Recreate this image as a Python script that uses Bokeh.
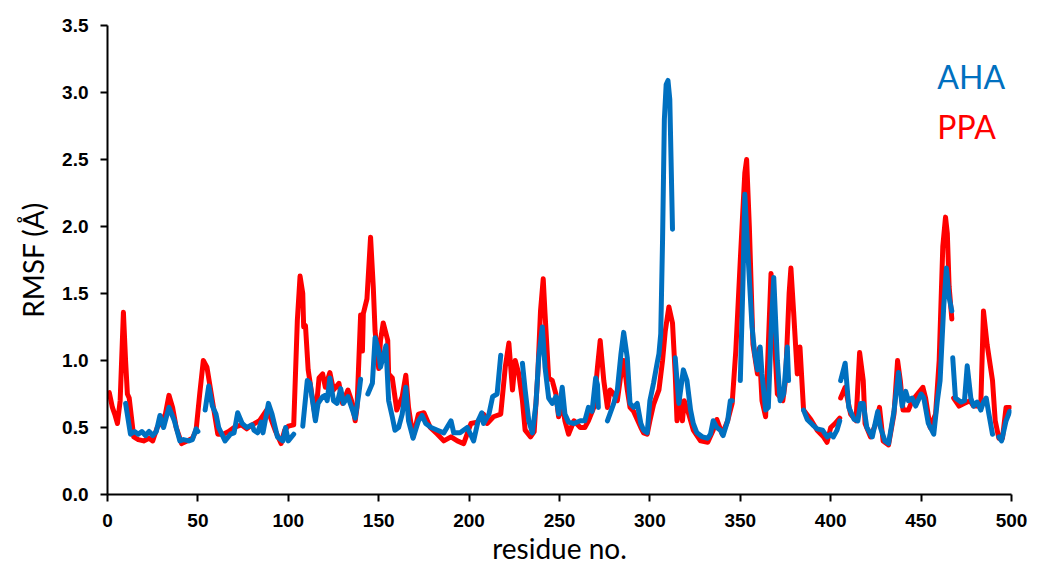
from bokeh.plotting import figure
from bokeh.models import Range1d, FixedTicker, PrintfTickFormatter, Label
from bokeh.embed import file_html
from bokeh.resources import INLINE

NaN = float("nan")

# PPA (red) RMSF per residue; NaN marks a break in the trace
ppa_res = [1, 2.7, 4, 5.5, 7, 8.8, 10, 11, 12, 14.5, 17, 20, 23, 25, 27.5, 30, 32, 34, 36, 38,
           41, 44, 47, 49, 51, 53, 55, 58, 61, 64, 67, 70, 74, 77, 80, 84, 88, 90, 93, 96,
           98, 100, 103, 105, 106.5, 108, 108.5, 109.5, 111, 113, 115, 117, 119, 120.5, 123, 125, 128, 130, 133, 135,
           137, 138, 140, 141, 141.5, 143.5, 145.5, 147, 148, 150, 151, 152.5, 155, 155.5, 157.5, 160, 163, 165, 166.5, 169,
           172, 175, 178.5, 182.5, 186, 190, 193.5, 197, 201, 204.5, 208, 210, 213.5, 217.5, 220, 222, 224, 225.5, 227.5, 229.5,
           231, 234, 236, 238, 239.5, 241, 242, 244, 246, 248, 249.5, 251.5, 253, 255, 258, 261.5, 264, 266, 269, 271,
           272.5, 274.5, 276.5, 278, 280, 282, 284, 285.5, 287.5, 289, 291, 295, 296.5, 298.5, 300, 302, 305, 307, 308.5, 310.5,
           312.5, 314, 315, 316.5, 318, 319, 321.5, 324, 328, 332, 335, 337, 340, 343, 345.5, 347.5, 350, 352.5, 353.5, 355,
           357, 359.5, 360.5, 362, 364, 367, 368.5, 370.5, 373.5, 375, 377, 378, 379.5, 381.5, 383, 385, 389, 392.5, 396, 398,
           400, 402.5, 405, NaN, 405.5, 408, 411, 414, 416, 418, 419, 422, 425, 427, 429, 432, 435, 437, 438.5, 440,
           443, 445, 448, 451, 452.5, 455, 458, 460, 462, 463.5, 464.5, 465.5, 467, NaN, 468, 471, 474, 477, 479, 483,
           484.5, 486.5, 489.5, 491, 493, 495, 497, 499]
ppa_rmsf = [0.76, 0.65, 0.60, 0.53, 0.70, 1.36, 1.00, 0.75, 0.72, 0.43, 0.41, 0.40, 0.42, 0.40, 0.50, 0.55, 0.60, 0.74, 0.65, 0.50,
            0.38, 0.40, 0.42, 0.48, 0.75, 1.00, 0.95, 0.70, 0.45, 0.45, 0.47, 0.50, 0.52, 0.49, 0.52, 0.55, 0.63, 0.58, 0.47, 0.38,
            0.48, 0.51, 0.52, 1.30, 1.63, 1.50, 1.25, 1.26, 0.93, 0.75, 0.57, 0.87, 0.90, 0.80, 0.91, 0.78, 0.83, 0.68, 0.78, 0.70,
            0.55, 0.65, 1.34, 1.07, 1.35, 1.46, 1.92, 1.55, 1.22, 0.94, 1.15, 1.28, 1.15, 0.90, 0.87, 0.63, 0.73, 0.89, 0.65, 0.43,
            0.60, 0.61, 0.50, 0.45, 0.40, 0.43, 0.40, 0.38, 0.53, 0.54, 0.60, 0.53, 0.58, 0.60, 0.95, 1.13, 0.78, 1.00, 0.90, 0.70,
            0.48, 0.43, 0.47, 0.90, 1.37, 1.61, 1.35, 0.87, 0.85, 0.75, 0.58, 0.68, 0.55, 0.45, 0.55, 0.50, 0.50, 0.55, 0.65, 0.95,
            1.15, 0.85, 0.65, 0.78, 0.75, 0.70, 0.90, 1.00, 0.78, 0.65, 0.62, 0.50, 0.46, 0.45, 0.55, 0.67, 0.78, 1.00, 1.22, 1.40,
            1.28, 0.90, 0.55, 0.70, 0.55, 0.70, 0.60, 0.48, 0.40, 0.39, 0.48, 0.56, 0.45, 0.55, 0.68, 1.07, 1.75, 2.40, 2.50, 2.00,
            1.12, 0.90, 1.09, 0.70, 0.58, 1.65, 1.25, 0.75, 0.70, 0.85, 1.50, 1.69, 1.36, 0.90, 1.10, 0.63, 0.56, 0.48, 0.43, 0.39,
            0.50, 0.53, 0.57, NaN, 0.72, 0.80, 0.60, 0.55, 1.06, 0.85, 0.53, 0.43, 0.53, 0.65, 0.40, 0.37, 0.60, 1.00, 0.85, 0.63,
            0.63, 0.70, 0.75, 0.80, 0.72, 0.50, 0.60, 1.00, 1.85, 2.07, 1.95, 1.55, 1.31, NaN, 0.72, 0.66, 0.68, 0.70, 0.66, 0.66,
            1.37, 1.12, 0.85, 0.55, 0.42, 0.42, 0.65, 0.65]

# AHA (blue) RMSF per residue; NaN marks a break in the trace
aha_res = [10, 12.7, 15, 17, 19, 21, 23, 25, 27, 29, 31, 34, 37, 40, 42, 45, 47, 49, 50, NaN,
           54, 56, 58, 60, 61.5, 65, 68, 70, 72, 74.5, 77, 80, 81, 83, 85, 86, 89, 91, 94, 97,
           98.5, 100, 103, NaN, 108, 110.5, 112, 115, 116.5, 119, 120.5, 121.5, 123, 125, 127, 129, 130.5, 133, 135, 137,
           139, 140, NaN, 144, 146.5, 148, 150, 151, 154, 155.5, 157.5, 159, 161, 163, 165, 166.5, 169, 172, 174, 176,
           179, 182.5, 186, 190, 191.5, 195, 199, 202.5, 205, 207, 208, 211, 213, 215.5, 217.5, NaN, 229.5, 231, 233, 235,
           237, 238.5, 240.5, 242, 244, 246, 248, 249.5, 251.5, 253, 255, 258, 261.5, 264, 266, 268, 270, 271, 271.5, NaN,
           276.5, 280, 282, 284, 285.5, 287.5, 289, 291, 293, 295, 296.5, 298.5, 300, 302, 304, 305, 306, 307, 308, 309,
           310, 311, 311.7, 312.5, NaN, 314, 316, 318.5, 320.5, 322.5, 324, 326, 329, 332, 333.5, 335, 337, 339, 340.5, 343,
           344.5, 345.5, NaN, 350, 351.5, 352.5, 354, 356.5, 358, 359.5, 361, 362, 364, 365.5, 367, 368.5, 370.5, 372, 374, 376,
           376.7, NaN, 385, 387, 390, 392.5, 395.5, 398, 400, 401.5, 403.5, 405, NaN, 405.5, 408, 410, 413, 415, 416.5, 418,
           420, 423, 426, 427.5, 430, 432, 435, 437.5, 439.5, 441.5, 443, 445, 447, 450, 451.5, 454, 457, 459, 460.5, 462.5,
           464, 465.5, 467, NaN, 467.5, 469, 472, 474, 475.5, 477.5, 479, 481, 483, 484.5, 486, 487.5, 489.5, NaN, 493, 494.5,
           497, 499]
aha_rmsf = [0.68, 0.45, 0.47, 0.45, 0.47, 0.44, 0.47, 0.44, 0.47, 0.59, 0.50, 0.65, 0.55, 0.40, 0.41, 0.40, 0.41, 0.49, 0.47, NaN,
            0.63, 0.81, 0.66, 0.60, 0.50, 0.40, 0.45, 0.46, 0.61, 0.53, 0.50, 0.52, 0.48, 0.46, 0.54, 0.46, 0.68, 0.60, 0.43, 0.40,
            0.50, 0.40, 0.45, NaN, 0.51, 0.85, 0.83, 0.55, 0.68, 0.73, 0.74, 0.70, 0.87, 0.70, 0.68, 0.79, 0.68, 0.73, 0.65, 0.57,
            0.75, 0.86, NaN, 0.75, 0.83, 1.17, 1.07, 0.95, 1.11, 0.70, 0.58, 0.48, 0.50, 0.60, 0.80, 0.55, 0.42, 0.55, 0.59, 0.53,
            0.50, 0.48, 0.46, 0.55, 0.46, 0.46, 0.50, 0.40, 0.55, 0.61, 0.53, 0.60, 0.73, 0.75, 1.04, NaN, 0.98, 0.78, 0.55, 0.46,
            0.68, 1.02, 1.25, 0.95, 0.72, 0.68, 0.73, 0.60, 0.80, 0.60, 0.54, 0.53, 0.55, 0.55, 0.65, 0.62, 0.87, 0.82, 0.65, NaN,
            0.55, 0.68, 0.78, 1.05, 1.21, 1.02, 0.68, 0.65, 0.68, 0.53, 0.48, 0.46, 0.70, 0.83, 0.98, 1.05, 1.20, 1.90, 2.80, 3.06,
            3.09, 2.95, 2.50, 1.98, NaN, 1.02, 0.68, 0.93, 0.85, 0.63, 0.53, 0.46, 0.43, 0.42, 0.45, 0.55, 0.50, 0.48, 0.44, 0.55,
            0.70, 0.70, NaN, 0.85, 1.60, 2.24, 1.85, 1.25, 1.05, 0.93, 1.10, 0.90, 0.63, 0.65, 1.20, 1.62, 1.00, 0.70, 0.75, 1.10,
            0.85, NaN, 0.63, 0.56, 0.52, 0.49, 0.48, 0.43, 0.45, 0.43, 0.48, 0.55, NaN, 0.85, 0.98, 0.65, 0.56, 0.55, 0.68, 0.68,
            0.50, 0.43, 0.62, 0.50, 0.40, 0.38, 0.62, 0.91, 0.66, 0.77, 0.70, 0.72, 0.66, 0.75, 0.72, 0.53, 0.45, 0.70, 0.85, 1.40,
            1.69, 1.47, 1.37, NaN, 1.02, 0.72, 0.69, 0.70, 0.96, 0.72, 0.66, 0.69, 0.63, 0.69, 0.72, 0.60, 0.45, NaN, 0.43, 0.40,
            0.55, 0.62]

x_ticks = [0, 50, 100, 150, 200, 250, 300, 350, 400, 450, 500]
y_ticks = [0.0, 0.5, 1.0, 1.5, 2.0, 2.5, 3.0, 3.5]

RED = "#FF0000"
BLUE = "#0070C0"

p = figure(width=1041, height=570, output_backend="svg", toolbar_location=None,
           x_range=Range1d(0, 500), y_range=Range1d(0, 3.5),
           min_border_left=107, min_border_right=30, min_border_top=25, min_border_bottom=76)
p.outline_line_color = None
p.xgrid.visible = False
p.ygrid.visible = False
p.background_fill_color = "white"
p.border_fill_color = "white"

p.line(ppa_res, ppa_rmsf, line_color=RED, line_width=5, line_join="round", line_cap="round")
p.line(aha_res, aha_rmsf, line_color=BLUE, line_width=5, line_join="round", line_cap="round")

for ax in (p.xaxis[0], p.yaxis[0]):
    ax.axis_line_color = "black"
    ax.axis_line_width = 2
    ax.major_tick_line_color = "black"
    ax.major_tick_line_width = 2
    ax.major_tick_in = 0
    ax.major_tick_out = 7
    ax.minor_tick_line_color = None
    ax.major_label_text_font = "Liberation Sans"
    ax.major_label_text_font_style = "bold"
    ax.major_label_text_font_size = "19px"
    ax.major_label_text_color = "black"
    ax.axis_label_text_font = "Lato"
    ax.axis_label_text_font_style = "normal"
    ax.axis_label_text_font_size = "28px"
    ax.axis_label_text_color = "black"

p.xaxis[0].ticker = FixedTicker(ticks=x_ticks)
p.yaxis[0].ticker = FixedTicker(ticks=y_ticks)
p.yaxis[0].formatter = PrintfTickFormatter(format="%.1f")
p.xaxis[0].major_label_standoff = 12
p.yaxis[0].major_label_standoff = 12
p.xaxis[0].axis_label = "residue no."
p.yaxis[0].axis_label = "RMSF (Å)"
p.xaxis[0].axis_label_standoff = 1
p.yaxis[0].axis_label_standoff = 9

p.add_layout(Label(x=459, y=3.12, text="AHA", text_color=BLUE, text_font="Lato",
                   text_font_size="32px", text_baseline="alphabetic", text_align="left"))
p.add_layout(Label(x=459, y=2.75, text="PPA", text_color=RED, text_font="Lato",
                   text_font_size="32px", text_baseline="alphabetic", text_align="left"))

open("out.html", "w").write(file_html(p, INLINE))
